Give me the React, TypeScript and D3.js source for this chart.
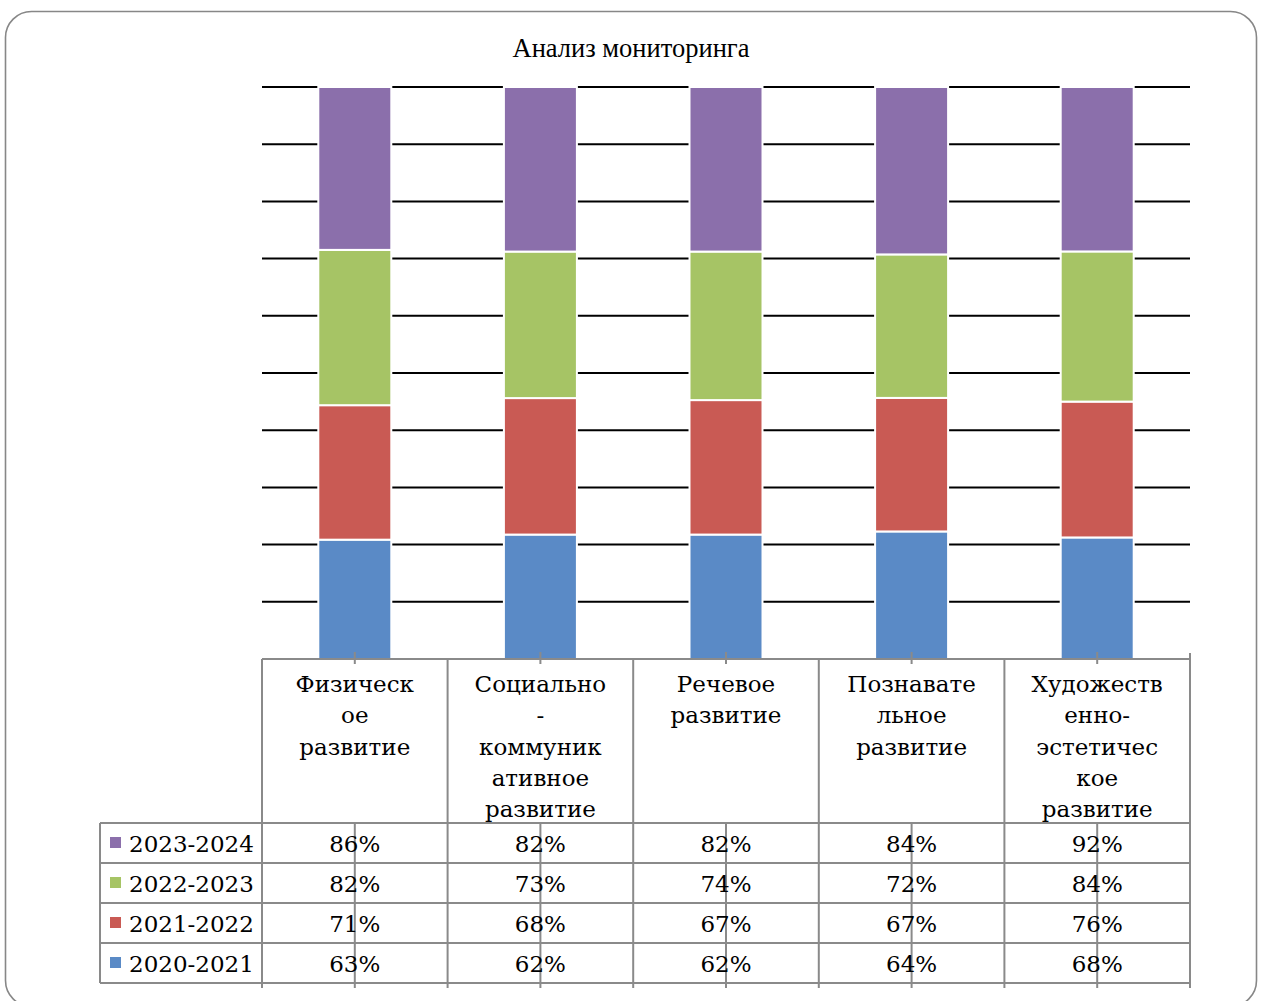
import React from "react";
import * as d3 from "d3";

const title = "Анализ мониторинга";
const categories = [
  "Физическое развитие",
  "Социально-коммуникативное развитие",
  "Речевое развитие",
  "Познавательное развитие",
  "Художественно-эстетическое развитие",
];
const categoryLines = [
  ["Физическ", "ое", "развитие"],
  ["Социально", "-", "коммуник", "ативное", "развитие"],
  ["Речевое", "развитие"],
  ["Познавате", "льное", "развитие"],
  ["Художеств", "енно-", "эстетичес", "кое", "развитие"],
];
// bottom to top stacking order
const seriesNames = ["2020-2021", "2021-2022", "2022-2023", "2023-2024"];
const s2020 = [63, 62, 62, 64, 68];
const s2021 = [71, 68, 67, 67, 76];
const s2022 = [82, 73, 74, 72, 84];
const s2023 = [86, 82, 82, 84, 92];
const seriesColors = ["#5A8AC6", "#C95A54", "#A6C465", "#8B6FAB"];
const gridTicks = [0.1, 0.2, 0.3, 0.4, 0.5, 0.6, 0.7, 0.8, 0.9, 1.0];

const W = 1265;
const H = 1001;
const plotLeft = 262;
const plotRight = 1190;
const plotTop = 87;
const plotBottom = 659;
const barWidth = 73;
const tableLeft = 100;
const headerBottom = 823;
const rowH = 40;
const tableEnd = 988;
const tableFont = "'DejaVu Serif', serif";
const tableFs = 23;
const lineGray = "#8a8a8a";

export default function App() {
  const seriesValues = [s2020, s2021, s2022, s2023];
  const rows = categories.map((c, i) => {
    const r: any = { cat: c };
    seriesNames.forEach((s, k) => (r[s] = seriesValues[k][i]));
    return r;
  });
  const stack = d3.stack<any>().keys(seriesNames).offset(d3.stackOffsetExpand);
  const stacked = stack(rows);

  const x = d3.scaleBand<string>().domain(categories).range([plotLeft, plotRight]).padding(0);
  const y = d3.scaleLinear().domain([0, 1]).range([plotBottom, plotTop]);
  const bw = x.bandwidth();

  // table rows order: top = 2023-2024
  const tableOrder = [3, 2, 1, 0];

  return (
    <svg width={W} height={H} style={{ position: "absolute", left: 0, top: 0, background: "#fff" }}>
      <rect x={5.5} y={11.5} width={1251} height={995} rx={26} ry={26} fill="#fff" stroke="#878787" strokeWidth={1.6} />
      <text x={631} y={57} textAnchor="middle" fontFamily="'Liberation Serif', 'Times New Roman', serif" fontSize={26.5} fill="#000">
        {title}
      </text>

      {/* gridlines */}
      {gridTicks.map((t) => (
        <line key={t} x1={plotLeft} x2={plotRight} y1={y(t)} y2={y(t)} stroke="#000" strokeWidth={2} />
      ))}

      {/* bars */}
      {stacked.map((layer, k) => (
        <g key={layer.key}>
          {layer.map((d, i) => {
            const cx = (x(categories[i]) as number) + bw / 2;
            return (
              <rect
                key={i}
                x={cx - barWidth / 2}
                y={y(d[1])}
                width={barWidth}
                height={y(d[0]) - y(d[1])}
                fill={seriesColors[k]}
                stroke="#fff"
                strokeWidth={2}
              />
            );
          })}
        </g>
      ))}

      {/* table grid */}
      <line x1={plotLeft} x2={plotRight} y1={plotBottom} y2={plotBottom} stroke={lineGray} strokeWidth={2} />
      {[0, 1, 2, 3, 4].map((r) => (
        <line key={r} x1={tableLeft} x2={plotRight} y1={headerBottom + r * rowH} y2={headerBottom + r * rowH} stroke={lineGray} strokeWidth={2} />
      ))}
      <line x1={tableLeft} x2={tableLeft} y1={headerBottom} y2={headerBottom + 4 * rowH} stroke={lineGray} strokeWidth={2} />
      {categories.map((c) => (
        <line key={c} x1={x(c) as number} x2={x(c) as number} y1={plotBottom} y2={tableEnd} stroke={lineGray} strokeWidth={2} />
      ))}
      <line x1={plotRight} x2={plotRight} y1={plotBottom - 6} y2={tableEnd} stroke={lineGray} strokeWidth={2} />
      {categories.map((c) => {
        const cx = (x(c) as number) + bw / 2;
        return (
          <g key={"t" + c}>
            <line x1={cx} x2={cx} y1={plotBottom - 7} y2={plotBottom + 5} stroke={lineGray} strokeWidth={2} />
            <line x1={cx} x2={cx} y1={headerBottom} y2={tableEnd} stroke={lineGray} strokeWidth={2} />
          </g>
        );
      })}

      {/* header labels */}
      {categories.map((c, i) => {
        const cx = (x(c) as number) + bw / 2;
        return (
          <text key={"h" + c} textAnchor="middle" fontFamily={tableFont} fontSize={tableFs} fill="#000">
            {categoryLines[i].map((ln, j) => (
              <tspan key={j} x={cx} y={692 + j * 31.3}>
                {ln}
              </tspan>
            ))}
          </text>
        );
      })}

      {/* rows */}
      {tableOrder.map((k, r) => {
        const top = headerBottom + r * rowH;
        return (
          <g key={seriesNames[k]}>
            <rect x={110} y={top + 14} width={11} height={11} fill={seriesColors[k]} />
            <text x={129} y={top + 29} fontFamily={tableFont} fontSize={tableFs} fill="#000">
              {seriesNames[k]}
            </text>
            {categories.map((c, i) => (
              <text key={c} x={(x(c) as number) + bw / 2} y={top + 29} textAnchor="middle" fontFamily={tableFont} fontSize={tableFs} fill="#000">
                {seriesValues[k][i] + "%"}
              </text>
            ))}
          </g>
        );
      })}
    </svg>
  );
}
